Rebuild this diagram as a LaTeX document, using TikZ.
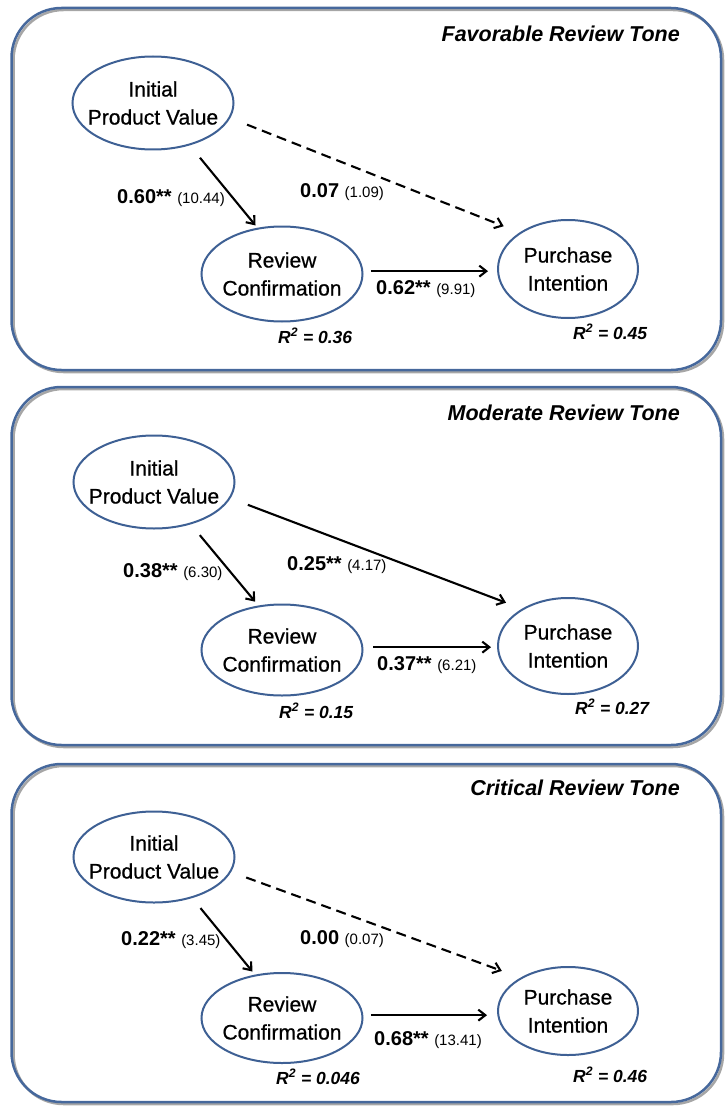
\documentclass[tikz,border=0pt]{standalone}
\usepackage{fontspec}
\setmainfont{Liberation Sans}
\newfontfamily\heavyfont{Liberation Sans}[FakeBold=0.7]
\usetikzlibrary{arrows.meta,shapes.geometric}
\definecolor{frameblue}{RGB}{70,104,156}
\definecolor{ellblue}{RGB}{62,96,148}
\begin{document}
\begin{tikzpicture}[x=1pt,y=-1pt,
  var/.style={ellipse, draw=ellblue, line width=2pt, inner sep=-20pt, align=center,
    font=\fontsize{21}{28}\selectfont\heavyfont},
  panelbox/.style={draw=frameblue, line width=2.5pt, rounded corners=50pt},
  panelshadow/.style={draw=black!35, line width=2.5pt, rounded corners=50pt},
  arr/.style={-{Straight Barb[length=7pt,width=11pt]}, line width=2.1pt},
  dsh/.style={arr, dash pattern=on 10pt off 6pt},
  coef/.style={anchor=base west, inner sep=0pt, font=\fontsize{20}{20}\selectfont\bfseries},
  rsq/.style={anchor=base west, inner sep=0pt, font=\fontsize{17.5}{18}\selectfont\bfseries\itshape},
  ttl/.style={anchor=base east, inner sep=0pt, font=\fontsize{21.5}{22}\selectfont\bfseries\itshape}
]
\newcommand{\tv}[1]{{\fontsize{15}{15}\selectfont\mdseries #1}}
\useasboundingbox (0,0) rectangle (725,1110);

% ---------- Panel 1 ----------
\draw[panelshadow] (13.5,10) rectangle (723,372);
\draw[panelbox] (11.5,8) rectangle (721,370);
\node[ttl] (t1) at (680,42) {Favorable Review Tone};
\node[var, minimum width=161pt, minimum height=93pt] (ipv1) at (153,103) {Initial\\Product Value};
\node[var, minimum width=161pt, minimum height=95pt] (rc1) at (282,274) {Review\\Confirmation};
\node[var, minimum width=140pt, minimum height=98pt] (pi1) at (568,269) {Purchase\\Intention};
\draw[arr, shorten <=16pt, shorten >=3pt] (ipv1.-49.6) -- (rc1.118.4);
\draw[dsh, shorten <=18pt, shorten >=17pt] (ipv1.-11.4) -- (pi1.143);
\draw[arr, shorten <=7.5pt, shorten >=9pt] (rc1.2) -- (rc1.2 -| pi1.west);
\node[coef] (c1a) at (117,204) {0.60** \tv{(10.44)}};
\node[coef] (c1b) at (300,197) {0.07 \tv{(1.09)}};
\node[coef] (c1c) at (376,294) {0.62** \tv{(9.91)}};
\node[rsq] (r1a) at (278,343) {R\textsuperscript{2} = 0.36};
\node[rsq] (r1b) at (573,339) {R\textsuperscript{2} = 0.45};

% ---------- Panel 2 ----------
\draw[panelshadow] (13.5,389) rectangle (723,747);
\draw[panelbox] (11.5,387) rectangle (721,745);
\node[ttl] (t2) at (680,420) {Moderate Review Tone};
\node[var, minimum width=161pt, minimum height=93pt] (ipv2) at (154,482) {Initial\\Product Value};
\node[var, minimum width=161pt, minimum height=91pt] (rc2) at (282,650) {Review\\Confirmation};
\node[var, minimum width=140pt, minimum height=96pt] (pi2) at (568,646) {Purchase\\Intention};
\draw[arr, shorten <=14pt, shorten >=5pt] (ipv2.-49) -- (rc2.118.4);
\draw[arr, shorten <=18.5pt, shorten >=17pt] (ipv2.-12.7) -- (pi2.141.5);
\draw[arr, shorten <=10pt, shorten >=6pt] (rc2.2.5) -- (rc2.2.5 -| pi2.west);
\node[coef] (c2a) at (123,577) {0.38** \tv{(6.30)}};
\node[coef] (c2b) at (287,570) {0.25** \tv{(4.17)}};
\node[coef] (c2c) at (377,670) {0.37** \tv{(6.21)}};
\node[rsq] (r2a) at (279,718) {R\textsuperscript{2} = 0.15};
\node[rsq] (r2b) at (575,714) {R\textsuperscript{2} = 0.27};

% ---------- Panel 3 ----------
\draw[panelshadow] (13.5,766) rectangle (723,1104);
\draw[panelbox] (11.5,764) rectangle (721,1102);
\node[ttl] (t3) at (680,795) {Critical Review Tone};
\node[var, minimum width=161pt, minimum height=91pt] (ipv3) at (154,857) {Initial\\Product Value};
\node[var, minimum width=161pt, minimum height=90pt] (rc3) at (282,1018) {Review\\Confirmation};
\node[var, minimum width=140pt, minimum height=88pt] (pi3) at (568,1011) {Purchase\\Intention};
\draw[arr, shorten <=13pt, shorten >=4pt] (ipv3.-47.4) -- (rc3.122.2);
\draw[dsh, shorten <=16pt, shorten >=19.7pt] (ipv3.-11.8) -- (pi3.145);
\draw[arr, shorten <=7.5pt, shorten >=10pt] (rc3.2) -- (rc3.2 -| pi3.west);
\node[coef] (c3a) at (121,945) {0.22** \tv{(3.45)}};
\node[coef] (c3b) at (300,944) {0.00 \tv{(0.07)}};
\node[coef] (c3c) at (374,1045) {0.68** \tv{(13.41)}};
\node[rsq] (r3a) at (276,1084) {R\textsuperscript{2} = 0.046};
\node[rsq] (r3b) at (573,1082) {R\textsuperscript{2} = 0.46};
\end{tikzpicture}
\end{document}
